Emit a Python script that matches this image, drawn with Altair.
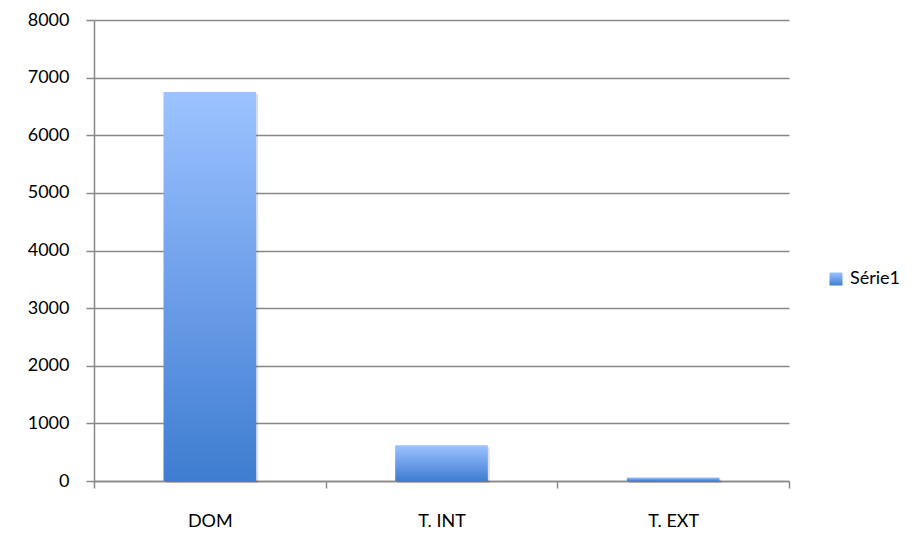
import altair as alt
import pandas as pd

categories = ["DOM", "T. INT", "T. EXT"]
values = [6750, 620, 60]
series = ["Série1", "Série1", "Série1"]

df = pd.DataFrame({"cat": categories, "val": values, "series": series})

FONT = "Lato"

gradient = alt.Gradient(
    gradient="linear",
    x1=0, x2=0, y1=0, y2=1,
    stops=[
        alt.GradientStop(color="#9CC3FF", offset=0),
        alt.GradientStop(color="#6E9FEA", offset=0.5),
        alt.GradientStop(color="#3E7DD0", offset=1),
    ],
)

x_enc = alt.X(
    "cat:N",
    sort=categories,
    title=None,
    scale=alt.Scale(paddingInner=0, paddingOuter=0),
    axis=alt.Axis(
        labelAngle=0,
        labelFont=FONT,
        labelFontSize=18,
        labelColor="#000000",
        labelPadding=24,
        tickBand="extent",
        tickSize=7,
        tickColor="#888888",
        tickWidth=1.5,
        domainColor="#888888",
        domainWidth=1.5,
        grid=False,
    ),
)

y_enc = alt.Y(
    "val:Q",
    title=None,
    scale=alt.Scale(domain=[0, 8000], nice=False),
    axis=alt.Axis(
        values=[0, 1000, 2000, 3000, 4000, 5000, 6000, 7000, 8000],
        format="d",
        labelFont=FONT,
        labelFontSize=18,
        labelColor="#000000",
        labelPadding=17,
        tickSize=8,
        tickColor="#888888",
        tickWidth=1.5,
        domainColor="#888888",
        domainWidth=1.5,
        grid=True,
        gridColor="#888888",
        gridWidth=1.5,
    ),
)

band = alt.RelativeBandSize(band=0.4)

shadow = alt.Chart(df).mark_bar(
    color="#000000", opacity=0.12, xOffset=2, yOffset=2, width=band
).encode(x=x_enc, y=y_enc)

bars = alt.Chart(df).mark_bar(fill=gradient, width=band).encode(
    x=x_enc,
    y=y_enc,
    stroke=alt.Stroke(
        "series:N",
        scale=alt.Scale(range=["#6E9FEA"]),
        legend=alt.Legend(
            title=None,
            orient="none",
            legendX=733,
            legendY=250,
            labelFont=FONT,
            labelFontSize=18,
            labelColor="#000000",
            symbolType="square",
            symbolSize=169,
            symbolFillColor="#6E9FEA",
            symbolStrokeWidth=0,
            labelOffset=5,
        ),
    ),
    strokeWidth=alt.value(0),
)

chart = (
    alt.layer(shadow, bars)
    .properties(
        width=695,
        height=461,
        autosize=alt.AutoSizeParams(type="none"),
        padding={"left": 86, "top": 12, "right": 124, "bottom": 50},
        view=alt.ViewBackground(stroke="transparent", strokeWidth=0),
    )
    .configure_view(stroke="transparent", strokeWidth=0)
    .configure(background="#ffffff")
)

chart.save("out.html", embed_options={"renderer": "svg", "actions": False})
